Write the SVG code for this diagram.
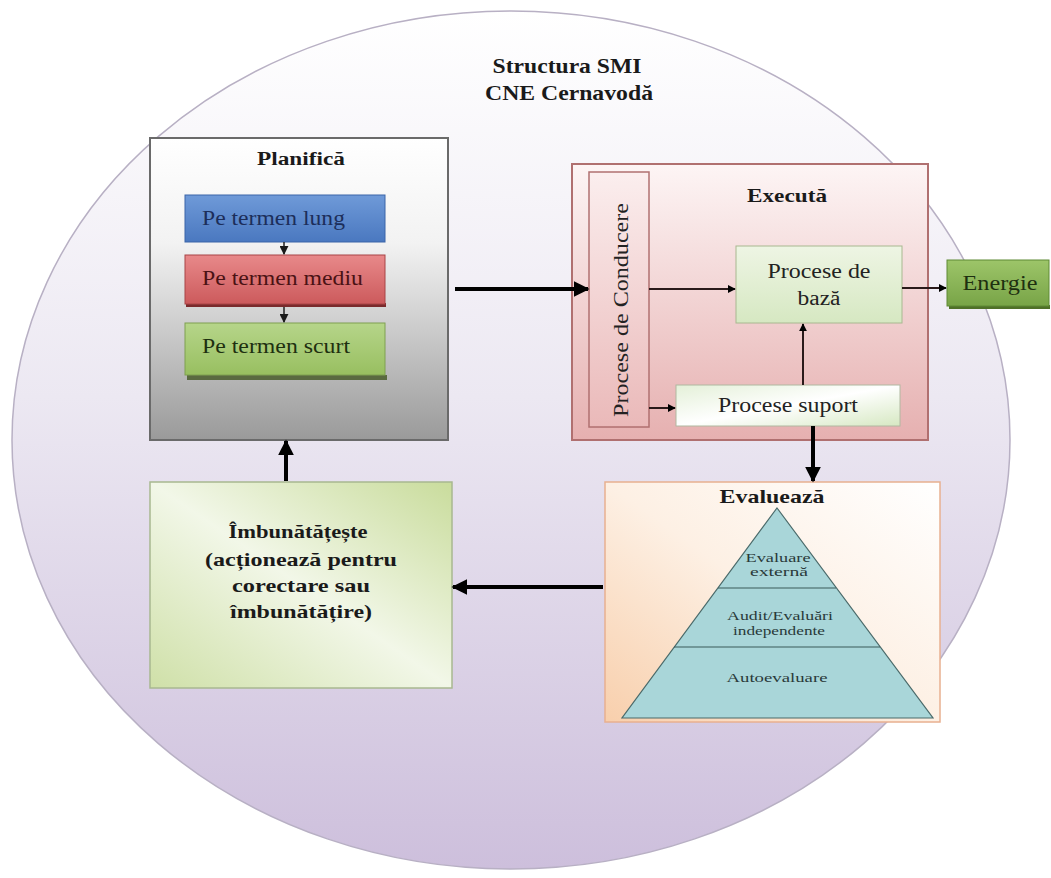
<svg xmlns="http://www.w3.org/2000/svg" width="1051" height="878" viewBox="0 0 1051 878">
<defs>
<linearGradient id="gEll" x1="0" y1="0" x2="0" y2="1">
<stop offset="0" stop-color="#ffffff"/><stop offset="0.45" stop-color="#ece8f2"/><stop offset="1" stop-color="#cdbfdc"/>
</linearGradient>
<linearGradient id="gPlan" x1="0" y1="0" x2="0" y2="1">
<stop offset="0" stop-color="#ffffff"/><stop offset="0.35" stop-color="#f2f2f2"/><stop offset="1" stop-color="#9a9a9a"/>
</linearGradient>
<linearGradient id="gExec" x1="0" y1="0" x2="0" y2="1">
<stop offset="0" stop-color="#fdf5f5"/><stop offset="1" stop-color="#e6b0b0"/>
</linearGradient>
<linearGradient id="gCond" x1="0" y1="0" x2="0" y2="1">
<stop offset="0" stop-color="#fbeeee"/><stop offset="1" stop-color="#eab9b9"/>
</linearGradient>
<linearGradient id="gBaza" x1="0" y1="0" x2="0" y2="1">
<stop offset="0" stop-color="#eef5e4"/><stop offset="1" stop-color="#d6e8c2"/>
</linearGradient>
<linearGradient id="gSup" x1="0" y1="0" x2="1" y2="1">
<stop offset="0" stop-color="#e4f0d8"/><stop offset="0.5" stop-color="#ffffff"/><stop offset="1" stop-color="#d6e8c2"/>
</linearGradient>
<linearGradient id="gEval" x1="1" y1="0" x2="0" y2="1">
<stop offset="0" stop-color="#ffffff"/><stop offset="0.5" stop-color="#fdf0e4"/><stop offset="1" stop-color="#f8cfac"/>
</linearGradient>
<linearGradient id="gImb" x1="1" y1="0" x2="0" y2="1">
<stop offset="0" stop-color="#c9dc9c"/><stop offset="0.5" stop-color="#f2f7e8"/><stop offset="1" stop-color="#cfe0a8"/>
</linearGradient>
<linearGradient id="gBlue" x1="0" y1="0" x2="0" y2="1">
<stop offset="0" stop-color="#6f9ad8"/><stop offset="1" stop-color="#4a78c0"/>
</linearGradient>
<linearGradient id="gRed" x1="0" y1="0" x2="0" y2="1">
<stop offset="0" stop-color="#e8898a"/><stop offset="1" stop-color="#cc5a5c"/>
</linearGradient>
<linearGradient id="gGreen" x1="0" y1="0" x2="0" y2="1">
<stop offset="0" stop-color="#b6d58a"/><stop offset="1" stop-color="#98bf60"/>
</linearGradient>
<linearGradient id="gEn" x1="0" y1="0" x2="0" y2="1">
<stop offset="0" stop-color="#9dc569"/><stop offset="1" stop-color="#78a447"/>
</linearGradient>
<marker id="ah" viewBox="0 0 10 10" refX="9" refY="5" markerWidth="4" markerHeight="4" orient="auto">
<path d="M0,0 L10,5 L0,10 z" fill="#000"/>
</marker>
<marker id="ahs" viewBox="0 0 10 10" refX="9" refY="5" markerWidth="6" markerHeight="6" orient="auto">
<path d="M0,0 L10,5 L0,10 z" fill="#1a1a1a"/>
</marker>
</defs>
<style>
.t{font-family:"Liberation Serif",serif;font-size:20px;fill:#222}
.b{font-family:"Liberation Serif",serif;font-weight:bold;font-size:20px;fill:#1a1a1a}
.s{font-family:"Liberation Serif",serif;font-size:12px;fill:#2a3a3a}
.thick{stroke:#000;stroke-width:4;fill:none}
.thin{stroke:#2a1a1a;stroke-width:2;fill:none}
</style>
<rect width="1051" height="878" fill="#ffffff"/>
<ellipse cx="511" cy="440" rx="499" ry="429" fill="url(#gEll)" stroke="#b8b0c4" stroke-width="1.5"/>
<g id="title">
<text x="567" y="73" text-anchor="middle" class="b" style="font-size:21px" textLength="149" lengthAdjust="spacingAndGlyphs">Structura SMI</text>
<text x="569" y="100" text-anchor="middle" class="b" style="font-size:21px" textLength="168" lengthAdjust="spacingAndGlyphs">CNE Cernavodă</text>
</g>
<g id="planifica">
<rect x="150" y="138" width="298" height="302" fill="url(#gPlan)" stroke="#6a6a6a" stroke-width="2"/>
<text x="301" y="165" text-anchor="middle" class="b" style="font-size:18px" textLength="88" lengthAdjust="spacingAndGlyphs">Planifică</text>
</g>
<g id="lung">
<rect x="185" y="195" width="200" height="47" fill="url(#gBlue)" stroke="#3a64a8" stroke-width="1"/>
<text x="202" y="225" class="t" style="fill:#1c2e5a" textLength="143" lengthAdjust="spacingAndGlyphs">Pe termen lung</text>
</g>
<g id="mediu">
<rect x="186" y="303" width="200" height="4" fill="#7a2a2c"/>
<rect x="185" y="255" width="200" height="49" fill="url(#gRed)" stroke="#a84446" stroke-width="1"/>
<text x="202" y="285" class="t" style="fill:#4a1214" textLength="161" lengthAdjust="spacingAndGlyphs">Pe termen mediu</text>
</g>
<g id="scurt">
<rect x="187" y="375" width="200" height="5" fill="#5a6a40"/>
<rect x="185" y="323" width="200" height="52" fill="url(#gGreen)" stroke="#7fa050" stroke-width="1"/>
<text x="202" y="353" class="t" style="fill:#1e3010" textLength="148" lengthAdjust="spacingAndGlyphs">Pe termen scurt</text>
</g>
<g id="executa">
<rect x="572" y="164" width="356" height="276" fill="url(#gExec)" stroke="#b07070" stroke-width="2"/>
<text x="787" y="202" text-anchor="middle" class="b" style="font-size:19px" textLength="80" lengthAdjust="spacingAndGlyphs">Execută</text>
</g>
<g id="conducere">
<rect x="589" y="172" width="60" height="255" fill="url(#gCond)" stroke="#b07070" stroke-width="1.5"/>
<text transform="translate(628,310) rotate(-90)" text-anchor="middle" class="t" textLength="214" lengthAdjust="spacingAndGlyphs">Procese de Conducere</text>
</g>
<g id="baza">
<rect x="736" y="246" width="166" height="77" fill="url(#gBaza)" stroke="#a8b890" stroke-width="1"/>
<text x="819" y="278" text-anchor="middle" class="t" textLength="103" lengthAdjust="spacingAndGlyphs">Procese de</text>
<text x="819" y="305" text-anchor="middle" class="t" textLength="43" lengthAdjust="spacingAndGlyphs">bază</text>
</g>
<g id="suport">
<rect x="676" y="385" width="224" height="41" fill="url(#gSup)" stroke="#b0b8a0" stroke-width="1"/>
<text x="788" y="412" text-anchor="middle" class="t" textLength="140" lengthAdjust="spacingAndGlyphs">Procese suport</text>
</g>
<g id="energie">
<rect x="949" y="305" width="101" height="4" fill="#4f7028"/>
<rect x="947" y="260" width="102" height="46" fill="url(#gEn)" stroke="#5f8a35" stroke-width="1"/>
<text x="1000" y="290" text-anchor="middle" class="t" style="fill:#1e3010" textLength="75" lengthAdjust="spacingAndGlyphs">Energie</text>
</g>
<g id="evalueaza">
<rect x="605" y="482" width="335" height="240" fill="url(#gEval)" stroke="#e8b090" stroke-width="1.5"/>
<text x="772" y="503" text-anchor="middle" class="b" style="font-size:19px" textLength="105" lengthAdjust="spacingAndGlyphs">Evaluează</text>
<polygon points="777,508 933,718 622,718" fill="#a9d6d9" stroke="#4a6a6a" stroke-width="1.2"/>
<line x1="718" y1="588" x2="836" y2="588" stroke="#3a5a5a" stroke-width="1.2"/>
<line x1="674" y1="647" x2="880" y2="647" stroke="#3a5a5a" stroke-width="1.2"/>
<text x="778" y="562" text-anchor="middle" class="s" textLength="65" lengthAdjust="spacingAndGlyphs">Evaluare</text>
<text x="779" y="576" text-anchor="middle" class="s" textLength="58" lengthAdjust="spacingAndGlyphs">externă</text>
<text x="780" y="620" text-anchor="middle" class="s" textLength="106" lengthAdjust="spacingAndGlyphs">Audit/Evaluări</text>
<text x="779" y="635" text-anchor="middle" class="s" textLength="92" lengthAdjust="spacingAndGlyphs">independente</text>
<text x="777" y="682" text-anchor="middle" class="s" style="font-size:13px" textLength="101" lengthAdjust="spacingAndGlyphs">Autoevaluare</text>
</g>
<g id="imbunatateste">
<rect x="150" y="482" width="302" height="206" fill="url(#gImb)" stroke="#a8b890" stroke-width="1.5"/>
<text x="298" y="538" text-anchor="middle" class="b" style="font-size:19px" textLength="139" lengthAdjust="spacingAndGlyphs">Îmbunătățește</text>
<text x="301" y="566" text-anchor="middle" class="b" style="font-size:19px" textLength="192" lengthAdjust="spacingAndGlyphs">(acționează pentru</text>
<text x="301" y="592" text-anchor="middle" class="b" style="font-size:19px" textLength="138" lengthAdjust="spacingAndGlyphs">corectare sau</text>
<text x="301" y="618" text-anchor="middle" class="b" style="font-size:19px" textLength="142" lengthAdjust="spacingAndGlyphs">îmbunătățire)</text>
</g>
<g id="connectors">
<line x1="284" y1="242" x2="284" y2="254" stroke="#222" stroke-width="1.5" marker-end="url(#ahs)"/>
<line x1="284" y1="307" x2="284" y2="322" stroke="#222" stroke-width="1.5" marker-end="url(#ahs)"/>
<line class="thick" x1="455" y1="289" x2="588" y2="289" marker-end="url(#ah)"/>
<line class="thin" x1="649" y1="289" x2="735" y2="289" marker-end="url(#ah)"/>
<line class="thin" x1="649" y1="408" x2="675" y2="408" marker-end="url(#ah)"/>
<line class="thin" x1="803" y1="385" x2="803" y2="324" marker-end="url(#ah)"/>
<line class="thin" x1="902" y1="288" x2="946" y2="288" marker-end="url(#ah)"/>
<line class="thick" x1="813" y1="426" x2="813" y2="481" marker-end="url(#ah)"/>
<line class="thick" x1="603" y1="587" x2="453" y2="587" marker-end="url(#ah)"/>
<line class="thick" x1="286" y1="481" x2="286" y2="441" marker-end="url(#ah)"/>
</g>
</svg>
